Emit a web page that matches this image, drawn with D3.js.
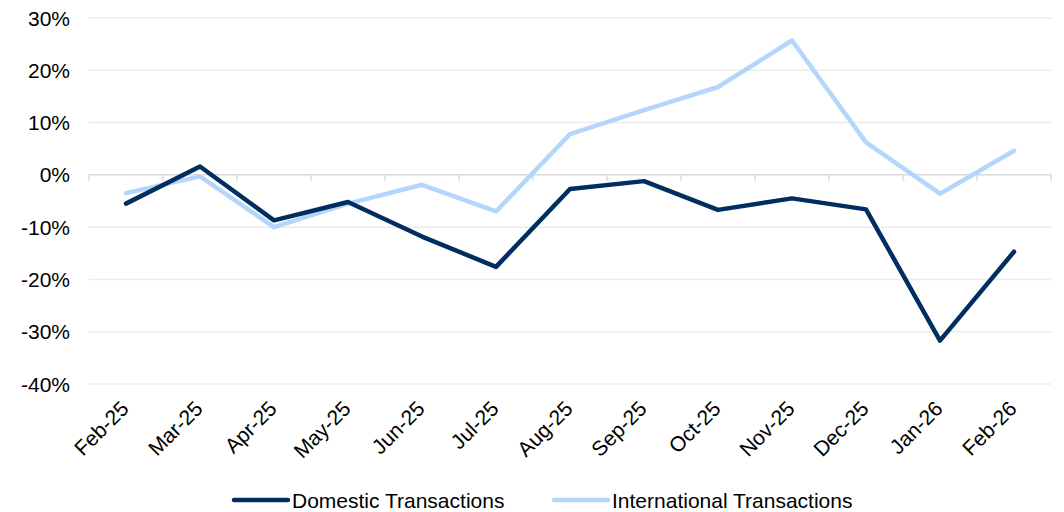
<!DOCTYPE html>
<html>
<head>
<meta charset="utf-8">
<script src="https://cdn.jsdelivr.net/npm/d3@7"></script>
<style>
  body { margin: 0; background: #fff; }
  svg { display: block; font-family: "Liberation Sans", Arial, sans-serif; }
</style>
</head>
<body>
<div id="vis"></div>
<script>
const months = ["Feb-25", "Mar-25", "Apr-25", "May-25", "Jun-25", "Jul-25", "Aug-25",
                "Sep-25", "Oct-25", "Nov-25", "Dec-25", "Jan-26", "Feb-26"];
const domestic = [-5.5, 1.6, -8.7, -5.2, -11.8, -17.6, -2.7, -1.2, -6.7, -4.5, -6.6, -31.7, -14.7];
const international = [-3.5, -0.3, -10.0, -5.5, -1.9, -7.0, 7.8, 12.4, 16.8, 25.7, 6.2, -3.6, 4.6];
const yTicks = [30, 20, 10, 0, -10, -20, -30, -40];
const seriesNames = ["Domestic Transactions", "International Transactions"];
const colors = ["#002f5f", "#b4d6fc"];

const width = 1064, height = 512;
const margin = {top: 18, right: 13, bottom: 128, left: 89};

const svg = d3.select("#vis").append("svg")
    .attr("width", width)
    .attr("height", height);

const xScale = d3.scaleBand()
    .domain(months)
    .range([margin.left, 1051]);

const yScale = d3.scaleLinear()
    .domain([-40, 30])
    .range([384, 18]);

const xPos = d => xScale(d) + xScale.bandwidth() / 2;

// gridlines
svg.append("g")
    .selectAll("line")
    .data(yTicks.filter(t => t !== 0))
    .join("line")
    .attr("x1", margin.left)
    .attr("x2", 1051)
    .attr("y1", d => yScale(d))
    .attr("y2", d => yScale(d))
    .attr("stroke", "#ebebeb")
    .attr("stroke-width", 1.5);

// y labels
svg.append("g")
    .selectAll("text")
    .data(yTicks)
    .join("text")
    .attr("x", 70)
    .attr("y", d => yScale(d))
    .attr("dy", "0.36em")
    .attr("text-anchor", "end")
    .attr("font-size", 21)
    .attr("fill", "#000")
    .text(d => d + "%");

// zero axis with ticks between categories
const zero = svg.append("g");
zero.append("line")
    .attr("x1", margin.left)
    .attr("x2", 1051)
    .attr("y1", yScale(0))
    .attr("y2", yScale(0))
    .attr("stroke", "#d9d9d9")
    .attr("stroke-width", 1.5);
zero.selectAll("line.tick")
    .data(months.concat(["end"]))
    .join("line")
    .attr("class", "tick")
    .attr("x1", (d, i) => i < months.length ? xScale(d) : 1051)
    .attr("x2", (d, i) => i < months.length ? xScale(d) : 1051)
    .attr("y1", yScale(0))
    .attr("y2", yScale(0) + 6)
    .attr("stroke", "#d9d9d9")
    .attr("stroke-width", 1.5);

// x labels
svg.append("g")
    .selectAll("text")
    .data(months)
    .join("text")
    .attr("transform", d => `translate(${xPos(d) + 4},${410}) rotate(-45)`)
    .attr("text-anchor", "end")
    .attr("font-size", 21)
    .attr("fill", "#000")
    .text(d => d);

// lines
const line = d3.line()
    .x((d, i) => xPos(months[i]))
    .y(d => yScale(d));

svg.append("g")
    .selectAll("path")
    .data([international, domestic])
    .join("path")
    .attr("d", d => line(d))
    .attr("fill", "none")
    .attr("stroke", (d, i) => i === 0 ? colors[1] : colors[0])
    .attr("stroke-width", 4.5)
    .attr("stroke-linejoin", "round")
    .attr("stroke-linecap", "round");

// legend
const legendItems = [
    {name: seriesNames[0], color: colors[0], x: 234},
    {name: seriesNames[1], color: colors[1], x: 554}
];
const legend = svg.append("g");
legend.selectAll("line")
    .data(legendItems)
    .join("line")
    .attr("x1", d => d.x)
    .attr("x2", d => d.x + 54)
    .attr("y1", 500)
    .attr("y2", 500)
    .attr("stroke", d => d.color)
    .attr("stroke-width", 4.5)
    .attr("stroke-linecap", "round");
legend.selectAll("text")
    .data(legendItems)
    .join("text")
    .attr("x", d => d.x + 58)
    .attr("y", 500)
    .attr("dy", "0.36em")
    .attr("font-size", 21)
    .attr("fill", "#000")
    .text(d => d.name);
</script>
</body>
</html>
